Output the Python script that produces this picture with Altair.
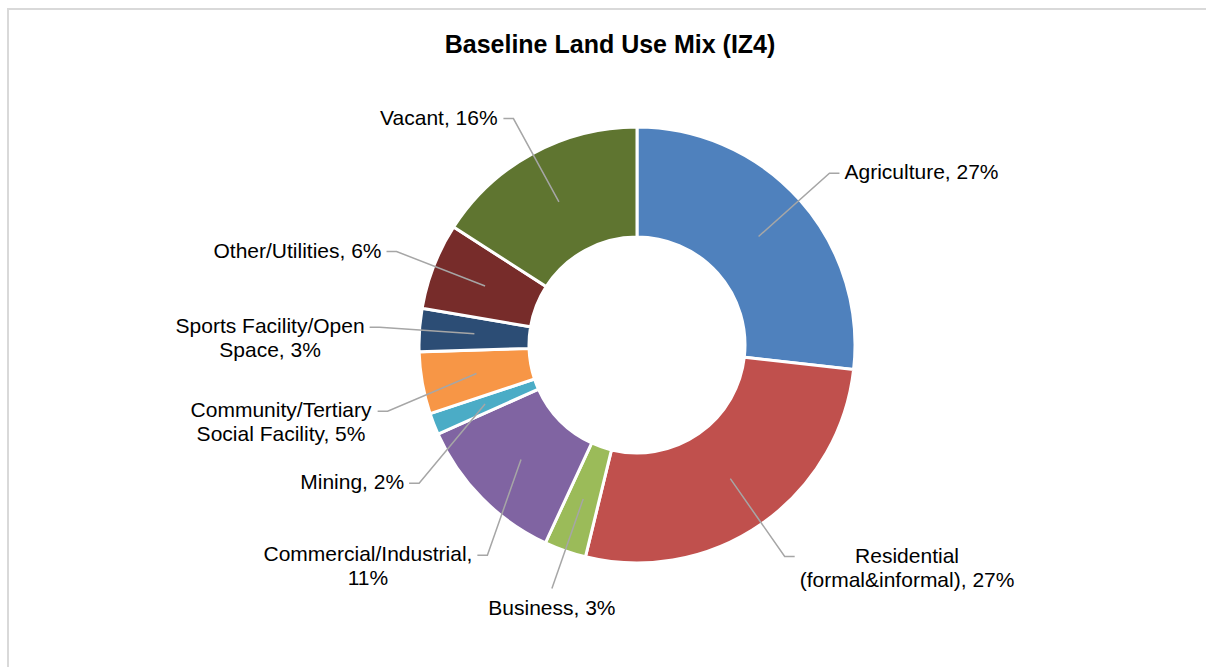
import math
import altair as alt
import numpy as np
import pandas as pd

# ---------------- data ----------------
title_text = "Baseline Land Use Mix (IZ4)"
categories = [
    "Agriculture",
    "Residential (formal&informal)",
    "Business",
    "Commercial/Industrial",
    "Mining",
    "Community/Tertiary Social Facility",
    "Sports Facility/Open Space",
    "Other/Utilities",
    "Vacant",
]
shares = [26.8, 27.0, 3.1, 11.4, 1.6, 4.6, 3.2, 6.4, 15.9]
label_texts = [
    "Agriculture, 27%",
    "Residential\n(formal&informal), 27%",
    "Business, 3%",
    "Commercial/Industrial,\n11%",
    "Mining, 2%",
    "Community/Tertiary\nSocial Facility, 5%",
    "Sports Facility/Open\nSpace, 3%",
    "Other/Utilities, 6%",
    "Vacant, 16%",
]
colors = ["#4F81BD", "#C0504D", "#9BBB59", "#8064A2", "#4BACC6",
          "#F79646", "#2C4D75", "#772C2A", "#5F7530"]

# ---------------- layout ----------------
W, H = 1206, 667
CX, CY = 637, 345
R_OUT, R_IN = 218, 108
R_START = 163
R_ELBOW = 258
STUB = 10
GAP = 5
MIN_GAP = 36
FONT = "Liberation Sans"
FS = 21
LH = 24

# Arial / Helvetica advance widths (per 1000 em)
AW = {" ": 278, "%": 889, "&": 667, "(": 333, ")": 333, ",": 278, "/": 278,
      ".": 278, "-": 333}
for d in "0123456789":
    AW[d] = 556
AW.update({"A": 667, "B": 667, "C": 722, "F": 611, "I": 278, "M": 833,
           "O": 778, "R": 722, "S": 667, "T": 611, "U": 722, "V": 667,
           "Z": 611, "a": 556, "b": 556, "c": 500, "d": 556, "e": 556,
           "f": 278, "g": 556, "h": 556, "i": 222, "j": 222, "k": 500,
           "l": 222, "m": 833, "n": 556, "o": 556, "p": 556, "q": 556,
           "r": 333, "s": 500, "t": 278, "u": 556, "v": 500, "w": 722,
           "x": 500, "y": 500, "z": 500})


def text_width(s):
    return max(sum(AW.get(ch, 556) for ch in line) for line in s.split("\n")) * FS / 1000.0


total = float(sum(shares))
cum = np.cumsum([0.0] + shares[:-1])
mids = (cum + np.array(shares) / 2.0) / total * 2 * math.pi

items = []
for cat, a, txt in zip(categories, mids, label_texts):
    nlines = txt.count("\n") + 1
    bottom = abs(a - math.pi) < 0.35
    side = 0 if bottom else (1 if math.sin(a) > 0 else -1)
    items.append({
        "cat": cat, "a": a, "txt": txt, "h": nlines * LH, "side": side,
        "sx": CX + R_START * math.sin(a), "sy": CY - R_START * math.cos(a),
        "ex": CX + R_ELBOW * math.sin(a), "ey": CY - R_ELBOW * math.cos(a),
    })

# spread side labels vertically so that blocks keep a minimum gap
for side in (-1, 1):
    grp = sorted([it for it in items if it["side"] == side], key=lambda it: it["ey"])
    for prev, cur in zip(grp, grp[1:]):
        min_y = prev["ey"] + prev["h"] / 2.0 + MIN_GAP + cur["h"] / 2.0
        if cur["ey"] < min_y:
            cur["ey"] = min_y
            dy = cur["ey"] - CY
            dx = math.sqrt(max(R_ELBOW ** 2 - dy ** 2, 0.0))
            cur["ex"] = CX + side * dx

line_rows = []
label_rows = []
for it in items:
    line_rows.append({"cat": it["cat"], "seq": 0, "x": it["sx"], "y": it["sy"]})
    line_rows.append({"cat": it["cat"], "seq": 1, "x": it["ex"], "y": it["ey"]})
    if it["side"] == 0:
        tx = it["ex"]
        ty = it["ey"] + 8 + it["h"] / 2.0
    else:
        stub_x = it["ex"] + it["side"] * STUB
        line_rows.append({"cat": it["cat"], "seq": 2, "x": stub_x, "y": it["ey"]})
        tx = stub_x + it["side"] * (GAP + text_width(it["txt"]) / 2.0)
        ty = it["ey"]
    label_rows.append({"cat": it["cat"], "label": it["txt"], "x": tx, "y": ty})

pie_df = pd.DataFrame({"category": categories, "share": shares,
                       "order": list(range(len(categories)))})
lines_df = pd.DataFrame(line_rows)
labels_df = pd.DataFrame(label_rows)

xs = alt.Scale(domain=[0, W], range=[0, W])
ys = alt.Scale(domain=[0, H], range=[0, H])

one = pd.DataFrame({"t": [title_text]})

frame_top = alt.Chart(one).mark_rule(color="#D9D9D9", strokeWidth=2).encode(
    x=alt.value(7), x2=alt.value(W), y=alt.value(9))
frame_left = alt.Chart(one).mark_rule(color="#D9D9D9", strokeWidth=2).encode(
    x=alt.value(8), y=alt.value(8), y2=alt.value(H))

arcs = alt.Chart(pie_df).mark_arc(
    radius=R_OUT, innerRadius=R_IN, stroke="white", strokeWidth=3
).encode(
    theta=alt.Theta("share:Q", stack=True),
    order=alt.Order("order:Q"),
    color=alt.Color("category:N", scale=alt.Scale(domain=categories, range=colors),
                    legend=None),
    x=alt.value(CX),
    y=alt.value(CY),
)

leaders = alt.Chart(lines_df).mark_line(color="#A6A6A6", strokeWidth=1.5).encode(
    x=alt.X("x:Q", scale=xs, axis=None),
    y=alt.Y("y:Q", scale=ys, axis=None),
    detail="cat:N",
    order=alt.Order("seq:Q"),
)

labels = alt.Chart(labels_df).mark_text(
    align="center", baseline="middle", lineBreak="\n", font=FONT,
    fontSize=FS, lineHeight=LH, color="#000000"
).encode(
    x=alt.X("x:Q", scale=xs, axis=None),
    y=alt.Y("y:Q", scale=ys, axis=None),
    text="label:N",
)

title = alt.Chart(one).mark_text(
    align="center", baseline="middle", font=FONT, fontSize=25,
    fontWeight="bold", color="#000000"
).encode(x=alt.value(610), y=alt.value(45), text="t:N")

chart = alt.layer(frame_top, frame_left, arcs, leaders, labels, title).properties(
    width=W, height=H, padding=0, autosize="none", background="white"
).configure_view(strokeWidth=0)

chart.save("out.html", embed_options={"renderer": "svg", "actions": False})
